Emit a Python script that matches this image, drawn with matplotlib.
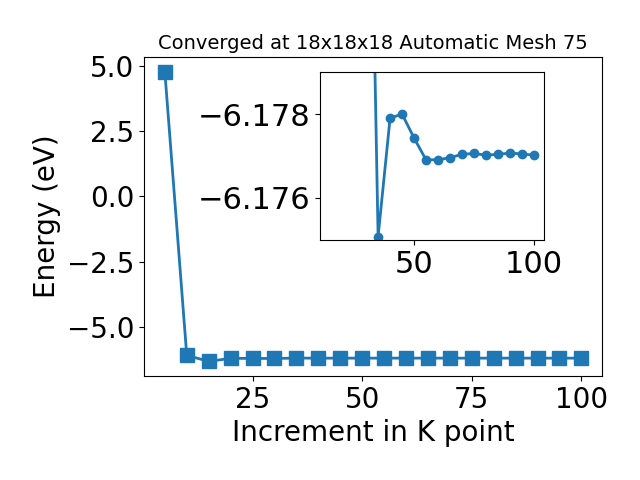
import numpy as np
import matplotlib
matplotlib.use("Agg")
import matplotlib.pyplot as plt

kpoints = [5, 10, 15, 20, 25, 30, 35, 40, 45, 50, 55, 60, 65, 70, 75, 80, 85, 90, 95, 100]
energy = [4.77, -6.07, -6.30, -6.185, -6.188, -6.1901, -6.17508, -6.17790, -6.17800,
          -6.17743, -6.17691, -6.17691, -6.17696, -6.17704, -6.17706, -6.17702,
          -6.17704, -6.17707, -6.17705, -6.17702]

fig = plt.figure(figsize=(6.4, 4.8), dpi=100)
ax = fig.add_axes([0.225, 0.217, 0.716, 0.664])
ax.plot(kpoints, energy, 's-', markersize=10, linewidth=2)
ax.set_xlabel("Increment in K point", fontsize=20)
ax.set_ylabel("Energy (eV)", fontsize=20)
ax.set_title("Converged at 18x18x18 Automatic Mesh 75", fontsize=14)
ax.tick_params(labelsize=20)

ins = fig.add_axes([0.5, 0.5, 0.35, 0.35])
ins.plot(kpoints[2:], energy[2:], 'o-', markersize=6, linewidth=2)
ins.set_ylim(-6.175, -6.179)
ins.set_yticks([-6.178, -6.176])
ins.tick_params(labelsize=22)

plt.savefig("out.png")
